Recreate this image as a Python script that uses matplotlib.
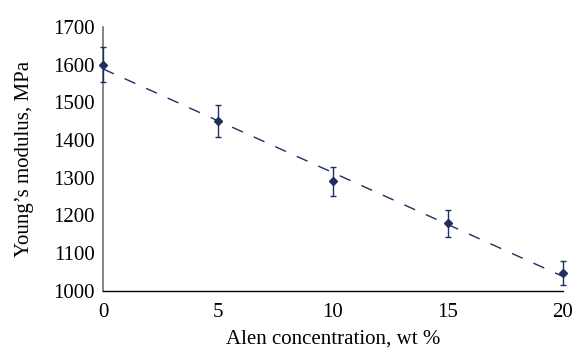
import numpy as np
import matplotlib
matplotlib.use("Agg")
import matplotlib.pyplot as plt

plt.rcParams['font.family'] = ['Liberation Serif', 'DejaVu Serif']

# data
conc = [0, 5, 10, 15, 20]
modulus = [1600, 1450, 1290, 1179, 1048]
err = [47, 43, 38, 35, 32]

col = '#1f3060'

fig = plt.figure(figsize=(5.79, 3.53), dpi=100)
ax = fig.add_axes([0.178, 0.176, 0.794, 0.748])

# linear trend line
k, b = np.polyfit(conc, modulus, 1)
xs = np.array([conc[0], conc[-1]])
ax.plot(xs, k * xs + b, color=col, lw=1.0, dashes=(8.5, 8.5), zorder=2)

ax.errorbar(conc, modulus, yerr=err, fmt='D', color=col, ms=4.5,
            ecolor=col, elinewidth=1.0, capsize=2.5, capthick=1.0, zorder=3,
            clip_on=False)

ax.set_xlim(0, 20)
ax.set_ylim(1000, 1700)
ax.set_xticks([0, 5, 10, 15, 20])
ax.set_yticks(range(1000, 1701, 100))
ax.tick_params(axis='y', length=0, labelsize=15, pad=6)
ax.tick_params(axis='x', length=0, labelsize=15, pad=9)
ax.spines['top'].set_visible(False)
ax.spines['right'].set_visible(False)
ax.spines['left'].set_color('#707070')
ax.spines['left'].set_linewidth(1.2)
ax.spines['bottom'].set_color('black')
ax.spines['bottom'].set_linewidth(1.0)

ax.set_xlabel('Alen concentration, wt %', fontsize=15, labelpad=5)
ax.set_ylabel('Young\u2019s modulus, MPa', fontsize=15, labelpad=14)

fig.savefig('out.png', dpi=100)
